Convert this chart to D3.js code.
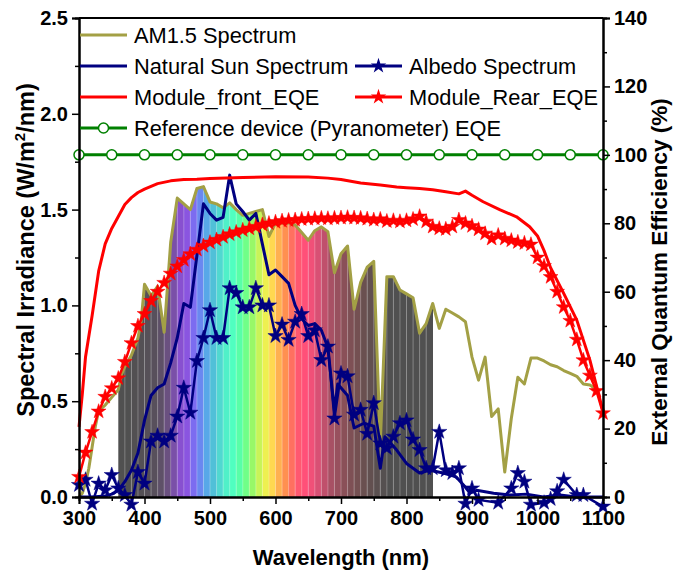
<!DOCTYPE html>
<html><head><meta charset="utf-8">
<script src="https://cdn.jsdelivr.net/npm/d3@7"></script>
<style>
html,body{margin:0;padding:0;background:#fff;}
svg{display:block;font-family:"Liberation Sans",Arial,sans-serif;}
</style></head>
<body><svg id="c" width="685" height="575"></svg>
<script>
// ---------- data ----------
const am15Wl  = [300,305,310,315,320,325,330,340,350,360,365,370,380,390,395,400,410,420,430,440,450,460,470,480,490,500,510,520,530,540,550,560,570,580,590,600,610,620,630,640,650,660,670,680,690,700,710,720,730,740,750,760,770,780,790,800,810,820,830,840,850,860,870,880,890,900,910,920,930,940,950,960,970,980,990,1000,1010,1020,1030,1040,1050,1060,1070,1080,1090];
const am15Val = [0.0,0.02,0.07,0.15,0.26,0.37,0.45,0.48,0.52,0.56,0.64,0.68,0.74,0.83,0.92,1.11,1.05,1.10,0.86,1.33,1.56,1.53,1.50,1.61,1.62,1.54,1.53,1.51,1.535,1.50,1.47,1.48,1.49,1.50,1.36,1.43,1.43,1.43,1.42,1.38,1.34,1.39,1.41,1.385,1.17,1.27,1.31,0.98,1.12,1.20,1.23,0.28,1.15,1.15,1.08,1.06,1.04,0.855,0.905,1.01,0.88,0.98,0.96,0.94,0.915,0.73,0.61,0.73,0.42,0.46,0.13,0.41,0.625,0.59,0.725,0.725,0.71,0.69,0.68,0.66,0.645,0.63,0.59,0.585,0.56];

const sunWl  = [300,320,340,350,360,370,380,390,400,410,420,430,440,450,460,470,480,490,500,510,520,530,540,550,560,570,580,590,600,610,620,630,640,650,660,670,680,690,695,710,720,735,750,760,767,785,800,820,836,856,876,889,897,907,933,958,983,1009,1034,1060,1100];
const sunVal = [0.0,0.0,0.005,0.015,0.035,0.08,0.14,0.23,0.40,0.53,0.57,0.59,0.70,0.83,1.01,0.99,1.26,1.53,1.48,1.445,1.46,1.68,1.53,1.49,1.445,1.48,1.32,1.16,1.185,1.15,1.115,1.0,0.93,0.895,0.905,0.87,0.78,0.45,0.59,0.53,0.36,0.385,0.37,0.15,0.315,0.245,0.175,0.125,0.14,0.125,0.105,0.055,0.02,0.035,0.02,0.01,0.015,0.0,0.01,0.0,0.0];

const albedoWl  = [300,310,320,330,340,350,360,370,380,390,400,410,420,430,440,450,460,470,480,490,500,510,520,530,540,550,560,570,580,590,600,610,620,630,640,650,660,670,680,690,700,710,720,730,740,750,760,770,780,790,800,810,820,830,840,850,860,870,880,890,900,910,940,960,970,980,990,1010,1020,1030,1040,1060,1070,1100];
const albedoVal = [0.063,0.09,-0.035,0.07,0.035,0.115,0.045,0.01,-0.04,0.13,0.07,0.29,0.32,0.29,0.32,0.42,0.57,0.44,0.71,0.83,0.975,0.83,0.83,1.09,1.065,0.99,0.99,1.09,1.0,1.0,0.84,0.90,0.82,0.915,0.955,0.84,0.87,0.715,0.785,0.41,0.645,0.63,0.43,0.455,0.33,0.49,0.28,0.255,0.315,0.385,0.40,0.30,0.245,0.15,0.15,0.34,0.14,0.125,0.15,-0.035,0.045,-0.015,-0.03,0.045,0.125,0.08,-0.04,-0.03,-0.01,0.03,0.09,0.01,0.01,-0.05];

const frontWl  = [300,305,310,320,330,340,350,360,370,380,390,400,420,440,460,480,500,550,600,650,680,700,730,760,785,800,820,840,860,880,890,900,917,943,968,988,1000,1010,1020,1040,1060,1080,1100];
const frontEqe = [20.5,30,41,53,66,74,78.5,82,85.5,87.5,89,90,91.6,92.4,92.8,92.9,93.1,93.4,93.6,93.5,93.2,92.8,91.8,91.2,90.6,90.4,90.2,89.8,89.2,88.6,89.4,88.2,86.3,83.9,81.9,79,76.3,72,67,59.5,51.7,40,25];

const rearWl  = d3.range(300, 1101, 10);
const rearEqe = [5.9,13,19,25,29.3,31.8,34.7,39.5,45,50,53.5,57.3,60,62.6,65.3,67.4,69.3,71,72.3,73.4,74.4,75.2,76,76.8,77.4,78,78.5,79,79.6,80,80.4,80.7,80.9,81,81.2,81.3,81.4,81.5,81.4,81.5,81.6,81.7,81.6,81.5,81.3,81.0,81.2,80.6,80.8,80.5,80.8,81.2,82.0,80.5,79.0,78.5,78.3,79.0,81.0,80.0,79.2,78.2,77.0,75.5,76.5,75.5,75.0,74.5,74.2,73.8,70,67.5,64.3,60,55.5,51.5,46,40,35.5,31,24.5];

const refWl  = d3.range(300, 1101, 50);
const refEqe = refWl.map(() => 100);

// visible-spectrum band under the AM1.5 curve (10 nm stripes)
const stripeWl = d3.range(360, 840, 10);
const stripeColors = ["#505050","#505050","#525052","#545055","#565058","#58505c","#5e5068","#6a5080","#7a50a8","#8850d0","#8a55e0","#7c6cf0","#6a88f0","#58a8e8","#50c0d8","#50d8d0","#50f0c8","#50ffc0","#58ffa8","#70ff88","#98f868","#c8f458","#eef050","#ffd850","#ffb050","#ff9050","#ff7060","#ff5870","#ff5078","#f05078","#d85074","#c0506c","#a85064","#98505e","#8a5058","#7e5055","#745052","#6a5050","#625050","#5a5050","#555050","#505050","#505050","#505050","#505050","#505050","#505050","#505050"];

const leftTicks  = [0,0.5,1.0,1.5,2.0,2.5];
const rightTicks = [0,20,40,60,80,100,120,140];
const xTicks     = [300,400,500,600,700,800,900,1000,1100];

const legendItems = [
  {label:"AM1.5 Spectrum", col:0, row:0, color:"#a3a045", marker:null},
  {label:"Natural Sun Spectrum", col:0, row:1, color:"#000080", marker:null},
  {label:"Albedo Spectrum", col:1, row:1, color:"#000080", marker:"star"},
  {label:"Module_front_EQE", col:0, row:2, color:"#ff0000", marker:null},
  {label:"Module_Rear_EQE", col:1, row:2, color:"#ff0000", marker:"star"},
  {label:"Reference device (Pyranometer) EQE", col:0, row:3, color:"#008000", marker:"circle"}
];

// ---------- layout ----------
const L = 79, R = 603, T = 18, B = 497;
const svg = d3.select("#c");
const x  = d3.scaleLinear().domain([300,1100]).range([L,R]);
const yL = d3.scaleLinear().domain([0,2.5]).range([B,T]);
const yR = d3.scaleLinear().domain([0,140]).range([B,T]);

const olive = "#a3a045", navy = "#000080", red = "#ff0000", green = "#008000";

// clip path for spectrum band: area under AM1.5
const am = am15Wl.map((w,i)=>[w, am15Val[i]]);
const defs = svg.append("defs");
defs.append("clipPath").attr("id","amclip").append("path")
  .attr("d", d3.area().x(d=>x(d[0])).y0(yL(0)).y1(d=>yL(d[1]))(am));

const band = svg.append("g").attr("clip-path","url(#amclip)");
band.selectAll("rect").data(stripeWl).join("rect")
  .attr("x", d=>x(d)).attr("width", d=>x(d+10)-x(d)+0.3)
  .attr("y", T).attr("height", B-T)
  .attr("fill", (d,i)=>stripeColors[i]);
band.selectAll("line").data(stripeWl.slice(1)).join("line")
  .attr("x1", d=>x(d)).attr("x2", d=>x(d)).attr("y1", T).attr("y2", B)
  .attr("stroke", "#ffffff").attr("stroke-opacity", 0.28).attr("stroke-width", 1);

const starSym = d3.symbol().type(d3.symbolStar);

function drawLine(wl, val, ys, color, width) {
  svg.append("path")
    .attr("d", d3.line().x(d=>x(d[0])).y(d=>ys(d[1]))(wl.map((w,i)=>[w,val[i]])))
    .attr("fill","none").attr("stroke",color).attr("stroke-width",width)
    .attr("stroke-linejoin","round");
}
function drawStars(wl, val, ys, color, size) {
  svg.append("g").selectAll("path").data(wl.map((w,i)=>[w,val[i]])).join("path")
    .attr("transform", d=>`translate(${x(d[0])},${ys(d[1])})`)
    .attr("d", starSym.size(size)()).attr("fill", color).attr("stroke", color).attr("stroke-width",0.5);
}

// left-axis series
drawLine(am15Wl, am15Val, yL, olive, 3);
drawLine(sunWl, sunVal, yL, navy, 3);
drawLine(albedoWl, albedoVal, yL, navy, 2.5);
drawStars(albedoWl, albedoVal, yL, navy, 72);

// right-axis series
drawLine(frontWl, frontEqe, yR, red, 3);
drawLine(rearWl, rearEqe, yR, red, 2.5);
drawStars(rearWl, rearEqe, yR, red, 68);
drawLine(refWl, refEqe, yR, green, 3);
svg.append("g").selectAll("circle").data(refWl.map((w,i)=>[w,refEqe[i]])).join("circle")
  .attr("cx", d=>x(d[0])).attr("cy", d=>yR(d[1])).attr("r", 5)
  .attr("fill","#fff").attr("stroke",green).attr("stroke-width",1.5);

// ---------- axes ----------
function styleAxis(g){
  g.selectAll(".domain").attr("stroke","#000").attr("stroke-width",2);
  g.selectAll(".tick line").attr("stroke","#000").attr("stroke-width",1.5);
  g.selectAll("text").attr("font-size",20).attr("font-weight","bold").attr("fill","#000")
   .attr("font-family",'"Liberation Sans",Arial,sans-serif');
}
const minorL = d3.range(0.25, 2.5, 0.5);
const minorR = d3.range(10, 140, 20);
const minorX = d3.range(350, 1100, 100);

svg.append("g").attr("transform",`translate(${L},0)`)
  .call(d3.axisLeft(yL).tickValues(minorL).tickSize(4).tickFormat("")).call(styleAxis);
svg.append("g").attr("transform",`translate(${L},0)`)
  .call(d3.axisLeft(yL).tickValues(leftTicks).tickSize(7).tickPadding(4).tickFormat(d3.format(".1f"))).call(styleAxis);

svg.append("g").attr("transform",`translate(${R},0)`)
  .call(d3.axisRight(yR).tickValues(minorR).tickSize(4).tickFormat("")).call(styleAxis);
svg.append("g").attr("transform",`translate(${R},0)`)
  .call(d3.axisRight(yR).tickValues(rightTicks).tickSize(7).tickPadding(4).tickFormat(d3.format("d"))).call(styleAxis);

svg.append("g").attr("transform",`translate(0,${B})`)
  .call(d3.axisBottom(x).tickValues(minorX).tickSize(4).tickFormat("")).call(styleAxis);
svg.append("g").attr("transform",`translate(0,${B})`)
  .call(d3.axisBottom(x).tickValues(xTicks).tickSize(7).tickPadding(7).tickFormat(d3.format("d"))).call(styleAxis);

svg.append("line").attr("x1",L).attr("x2",R).attr("y1",T).attr("y2",T)
  .attr("stroke","#000").attr("stroke-width",2);

// axis titles
svg.append("text").attr("x",(L+R)/2).attr("y",565).attr("text-anchor","middle")
  .attr("font-size",22).attr("font-weight","bold").text("Wavelength (nm)");
const lt = svg.append("text").attr("transform",`translate(34,250) rotate(-90)`)
  .attr("text-anchor","middle").attr("font-size",23.5).attr("font-weight","bold");
lt.append("tspan").text("Spectral Irradiance (W/m");
lt.append("tspan").attr("font-size",15).attr("dy",-9).text("2");
lt.append("tspan").attr("dy",9).text("/nm)");
svg.append("text").attr("transform",`translate(667,272) rotate(-90)`)
  .attr("text-anchor","middle").attr("font-size",22.5).attr("font-weight","bold")
  .text("External Quantum Efficiency (%)");

// ---------- legend ----------
const colX = [80, 355], rowY = [35, 66, 97, 128];
const lg = svg.append("g");
legendItems.forEach(it => {
  const x0 = colX[it.col], y0 = rowY[it.row];
  lg.append("line").attr("x1",x0).attr("x2",x0+47).attr("y1",y0).attr("y2",y0)
    .attr("stroke",it.color).attr("stroke-width",3);
  if (it.marker === "star") {
    lg.append("path").attr("transform",`translate(${x0+23.5},${y0})`)
      .attr("d", starSym.size(75)()).attr("fill",it.color);
  } else if (it.marker === "circle") {
    lg.append("circle").attr("cx",x0+23.5).attr("cy",y0).attr("r",5)
      .attr("fill","#fff").attr("stroke",it.color).attr("stroke-width",1.5);
  }
  lg.append("text").attr("x",x0+54).attr("y",y0+7.5).attr("font-size",21.8).attr("fill","#000").text(it.label);
});
</script></body></html>
